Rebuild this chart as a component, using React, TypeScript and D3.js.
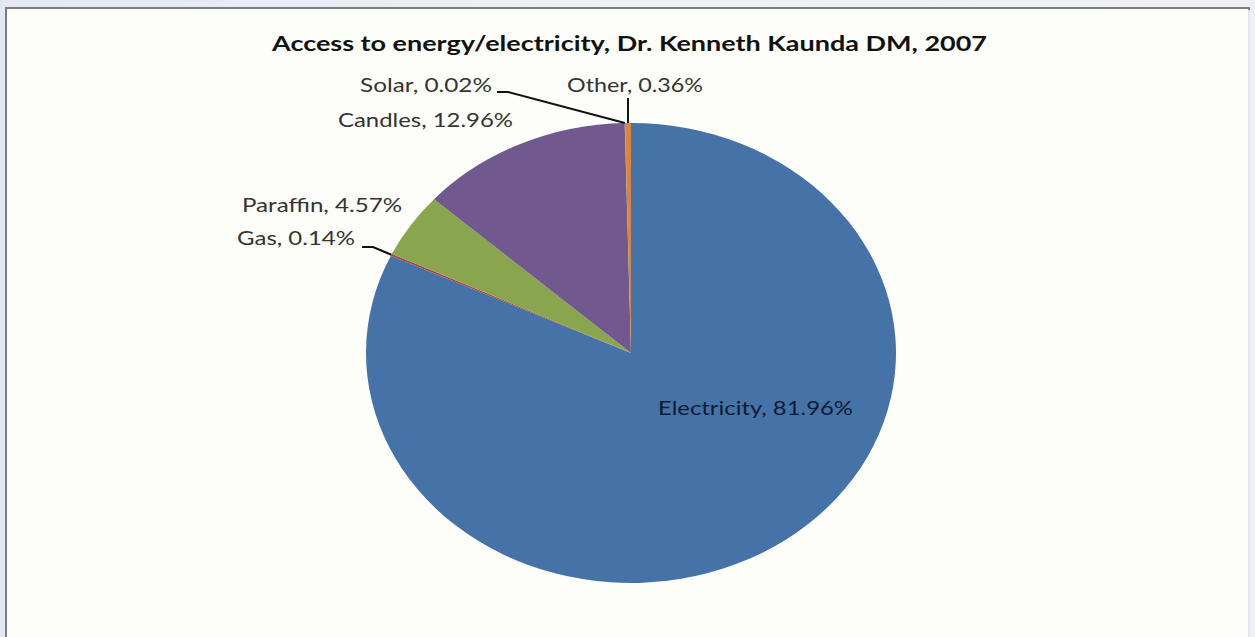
import React from "react";
import * as d3 from "d3";

// Share of households by energy source
const categories = ["Electricity", "Gas", "Paraffin", "Candles", "Solar", "Other"];
const shares = [81.96, 0.14, 4.57, 12.96, 0.02, 0.36];
const sliceColors = ["#4572A7", "#AA4643", "#89A54E", "#71588F", "#4198AF", "#DB843D"];
const titleText = "Access to energy/electricity, Dr. Kenneth Kaunda DM, 2007";

const W = 1255;
const H = 637;
const cx = 631;
const cy = 353;
const rx = 265;
const ry = 230;

// Label placement: text box (left x, baseline, width) and optional leader elbow
type LabelLayout = { x: number; y: number; w: number; inside?: boolean; leader?: [number, number][] };
const labelLayout: Record<string, LabelLayout> = {
  Electricity: { x: 658, y: 415, w: 195, inside: true },
  Gas: { x: 237, y: 245, w: 118, leader: [[362, 247], [373, 247]] },
  Paraffin: { x: 242, y: 212, w: 160 },
  Candles: { x: 338, y: 127, w: 175 },
  Solar: { x: 360, y: 92, w: 132, leader: [[497, 92], [508, 92]] },
  Other: { x: 567, y: 92, w: 136, leader: [[628, 98]] },
};

export default function App() {
  const data = categories.map((c, i) => ({ name: c, value: shares[i], color: sliceColors[i] }));
  const pie = d3
    .pie<{ name: string; value: number; color: string }>()
    .sort(null)
    .value((d) => d.value);
  const arcs = pie(data);
  const arc = d3
    .arc<d3.PieArcDatum<{ name: string; value: number; color: string }>>()
    .innerRadius(0)
    .outerRadius(rx);

  const edgePoint = (a: d3.PieArcDatum<any>): [number, number] => {
    const m = (a.startAngle + a.endAngle) / 2;
    return [cx + rx * Math.sin(m), cy - ry * Math.cos(m)];
  };

  const line = d3.line();

  return (
    <svg
      width={W}
      height={H}
      style={{ position: "absolute", left: 0, top: 0, display: "block" }}
      fontFamily="Lato, 'Open Sans', sans-serif"
    >
      <defs>
        <linearGradient id="topband" x1="0" y1="0" x2="1" y2="0">
          <stop offset="0" stopColor="#e3e9f2" />
          <stop offset="0.5" stopColor="#edf2f3" />
          <stop offset="1" stopColor="#eef0f6" />
        </linearGradient>
      </defs>
      <rect x={0} y={0} width={W} height={H} fill="url(#topband)" />
      <rect x={6} y={8} width={1243} height={H} fill="#fdfef9" stroke="#7d7d7d" strokeWidth={2} />
      <line x1={1249} y1={10} x2={1249} y2={H} stroke="#e4e6ea" strokeWidth={2} />

      <text
        x={272}
        y={51}
        fontSize={20.5}
        fontWeight={700}
        fill="#111"
        textLength={715}
        lengthAdjust="spacingAndGlyphs"
      >
        {titleText}
      </text>

      <g transform={`translate(${cx},${cy}) scale(1,${ry / rx})`}>
        {arcs.map((a) => (
          <path key={a.data.name} d={arc(a) || ""} fill={a.data.color} />
        ))}
      </g>

      {arcs.map((a) => {
        const L = labelLayout[a.data.name];
        const pct = `${a.data.name}, ${a.data.value.toFixed(2)}%`;
        const pts: [number, number][] | null = L.leader ? [...L.leader, edgePoint(a)] : null;
        return (
          <g key={a.data.name}>
            {pts && <path d={line(pts) || ""} fill="none" stroke="#111" strokeWidth={2} />}
            <text
              x={L.x}
              y={L.y}
              fontSize={20}
              fill={L.inside ? "#0f1b33" : "#333"}
              textLength={L.w}
              lengthAdjust="spacingAndGlyphs"
            >
              {pct}
            </text>
          </g>
        );
      })}
    </svg>
  );
}
